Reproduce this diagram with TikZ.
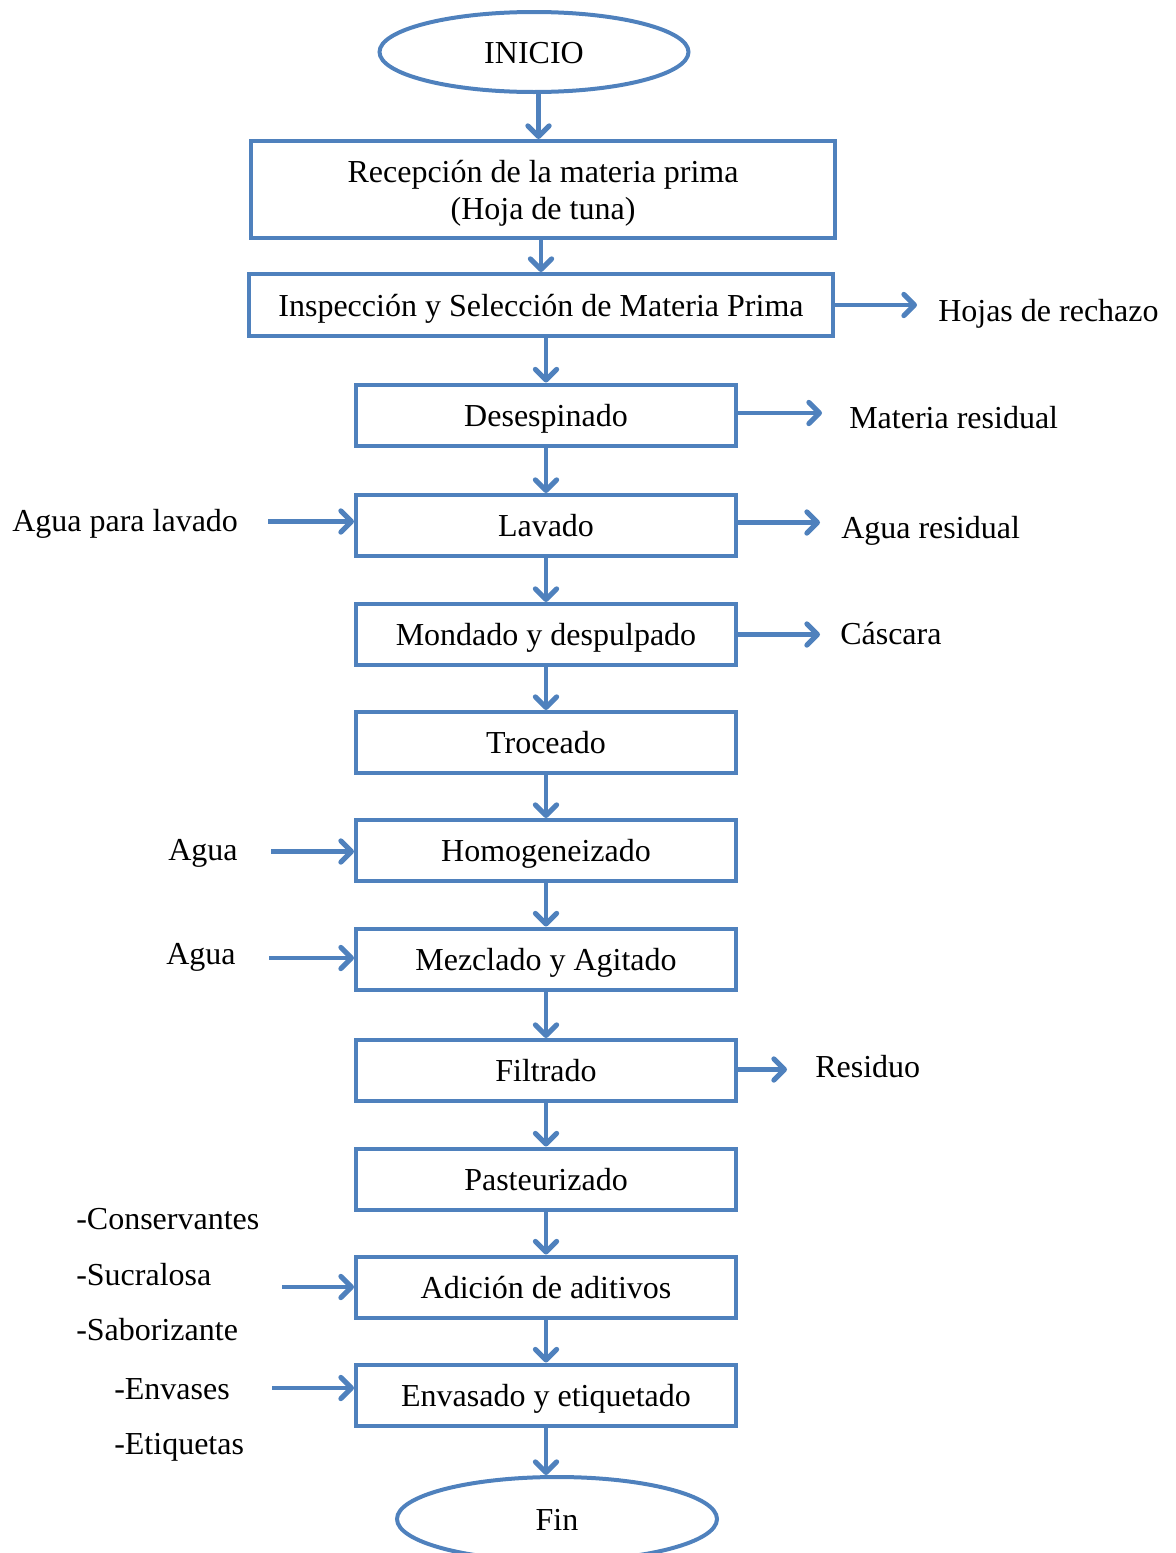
\documentclass[tikz,border=0pt]{standalone}
\usepackage{fontspec}
\setmainfont{Liberation Serif}
\usetikzlibrary{arrows.meta,shapes.geometric,calc}
\definecolor{flowblue}{HTML}{4F81BD}
\newcommand{\lowtext}[1]{\raisebox{-3pt}[\height][\depth]{#1}}
\begin{document}
\begin{tikzpicture}[x=0.75pt,y=-0.75pt,
  font=\fontsize{24}{27.75}\selectfont,
  stepbox/.style={draw=flowblue,line width=3pt,rectangle,inner sep=0pt,
    minimum width=285pt,minimum height=45.75pt,align=center,
    text height=21.5pt,text depth=4.5pt},
  widebox/.style={stepbox,minimum width=438pt},
  terminal/.style={draw=flowblue,line width=3pt,ellipse,inner sep=0pt,
    text height=21.5pt,text depth=4.5pt},
  lbl/.style={anchor=west,inner sep=0pt,text height=21.5pt,text depth=4.5pt},
  arr/.style={draw=flowblue,line width=3.5pt,
    -{Straight Barb[length=8pt,width=16pt,line width=3.75pt,round]}}]
\useasboundingbox (0,0) rectangle (1176,1553);

% terminals
\node[terminal,minimum width=231.75pt,minimum height=60pt] (e1) at (534,52) {INICIO};
\node[terminal,minimum width=240pt,minimum height=63pt] (e2) at (557,1519) {Fin};

% process steps
\node[draw=flowblue,line width=3pt,rectangle,inner sep=0pt,align=center,
  minimum width=438pt,minimum height=72.75pt] (b1) at (543,189.5)
  {\lowtext{Recepción de la materia prima}\\\lowtext{(Hoja de tuna)}};
\node[widebox,minimum height=46.5pt] (b2) at (541,305) {Inspección y Selección de Materia Prima};
\node[stepbox] (b3)  at (546,415)    {Desespinado};
\node[stepbox] (b4)  at (546,525.5)  {Lavado};
\node[stepbox] (b5)  at (546,634.5)  {Mondado y despulpado};
\node[stepbox] (b6)  at (546,742.5)  {Troceado};
\node[stepbox] (b7)  at (546,850.5)  {Homogeneizado};
\node[stepbox] (b8)  at (546,959)    {Mezclado y Agitado};
\node[stepbox] (b9)  at (546,1070.5) {Filtrado};
\node[stepbox] (b10) at (546,1179)   {Pasteurizado};
\node[stepbox] (b11) at (546,1287)   {Adición de aditivos};
\node[stepbox] (b12) at (546,1395)   {Envasado y etiquetado};

% main flow
\coordinate (m0) at ($(e1.south)!0.5!(b1.north)$);
\draw[arr] (m0 |- e1.south) -- (m0 |- b1.north);
\draw[arr] (b1.south -| b2.north) -- (b2.north);
\draw[arr] (b2.south -| b3.north) -- (b3.north);
\foreach \a/\b in {b3/b4,b4/b5,b5/b6,b6/b7,b7/b8,b8/b9,b9/b10,b10/b11,b11/b12}
  \draw[arr] (\a.south) -- (\b.north);
\draw[arr] (b12.south) -- (b12.south |- e2.north);

% outputs
\coordinate (o2) at ($(b2.east)+(82,0)$);
\coordinate (o3) at ($(b3.east)+(84,-2)$);
\coordinate (o4) at ($(b4.east)+(82,-3)$);
\coordinate (o5) at ($(b5.east)+(82,0)$);
\coordinate (o9) at ($(b9.east)+(49,-1)$);
\draw[arr] (b2.east) -- (o2);
\draw[arr] (b3.east |- o3) -- (o3);
\draw[arr] (b4.east |- o4) -- (o4);
\draw[arr] (b5.east) -- (o5);
\draw[arr] (b9.east |- o9) -- (o9);
\node[lbl] (t2) at (938,310) {Hojas de rechazo};
\node[lbl] (t3) at (849,417) {Materia residual};
\node[lbl] (t4) at (841,527) {Agua residual};
\node[lbl] (t5) at (840,633) {Cáscara};
\node[lbl] (t9) at (815,1066) {Residuo};

% inputs
\coordinate (i4)  at ($(b4.west)+(-86,-4)$);
\coordinate (i7)  at ($(b7.west)+(-83,1)$);
\coordinate (i8)  at ($(b8.west)+(-85,-1)$);
\coordinate (i11) at ($(b11.west)+(-72,0)$);
\coordinate (i12) at ($(b12.west)+(-82,-7)$);
\draw[arr] (i4) -- (i4 -| b4.west);
\draw[arr] (i7) -- (i7 -| b7.west);
\draw[arr] (i8) -- (i8 -| b8.west);
\draw[arr] (i11) -- (i11 -| b11.west);
\draw[arr] (i12) -- (i12 -| b12.west);
\node[lbl] (s4) at (12,520) {Agua para lavado};
\node[lbl] (s7) at (168,849) {Agua};
\node[lbl] (s8) at (166,953) {Agua};
\node[lbl] (s11a) at (76,1218) {-Conservantes};
\node[lbl] (s11b) at (76,1274) {-Sucralosa};
\node[lbl] (s11c) at (76,1329) {-Saborizante};
\node[lbl] (s12a) at (114,1388) {-Envases};
\node[lbl] (s12b) at (114,1443) {-Etiquetas};
\end{tikzpicture}
\end{document}
